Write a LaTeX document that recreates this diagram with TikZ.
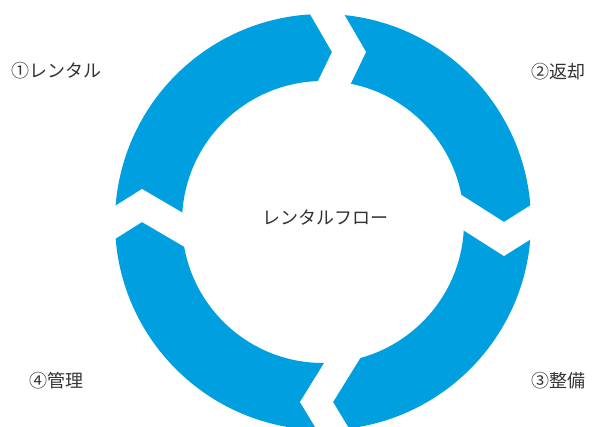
\documentclass[tikz,border=0pt]{standalone}
\usepackage{fontspec}
\setmainfont{Noto Sans CJK JP}
\definecolor{ringblue}{RGB}{0,159,223}
\definecolor{txtgray}{RGB}{51,51,51}
\begin{document}
\begin{tikzpicture}[x=1pt,y=-1pt,
  gapband/.style={fill=white},
  ring/.style={fill=ringblue, even odd rule},
  lbl/.style={text=txtgray, font=\fontsize{18}{21}\selectfont, inner sep=0pt}]
\useasboundingbox (0,0) rectangle (592,427);
\clip (0,0) rectangle (592,427);
% ring
\fill[ring] (323,222) circle[radius=208pt] (323,222) circle[radius=141pt];
% top gap (chevron pointing right)
\fill[gapband] (296,-10) -- (332,52) -- (304,110) -- (338,110) -- (366,52) -- (330,-10) -- cycle;
% right gap (chevron pointing down)
\fill[gapband] (560,186.8) -- (504,222) -- (440,181.4) -- (440,215.4) -- (504,256) -- (560,220.8) -- cycle;
% bottom gap (chevron pointing left)
\fill[gapband] (377.6,330) -- (333,402) -- (359,445) -- (326,445) -- (300,402) -- (344.6,330) -- cycle;
% left gap (chevron pointing up)
\fill[gapband] (90,254.7) -- (142,222) -- (205,258.9) -- (205,225.9) -- (142,189) -- (90,221.7) -- cycle;
% labels
\node[lbl] (center) at (325,218) {レンタルフロー};
\node[lbl] (s1) at (56,71) {①レンタル};
\node[lbl] (s2) at (558,72) {②返却};
\node[lbl] (s3) at (558,381) {③整備};
\node[lbl] (s4) at (57,381) {④管理};
\end{tikzpicture}
\end{document}
